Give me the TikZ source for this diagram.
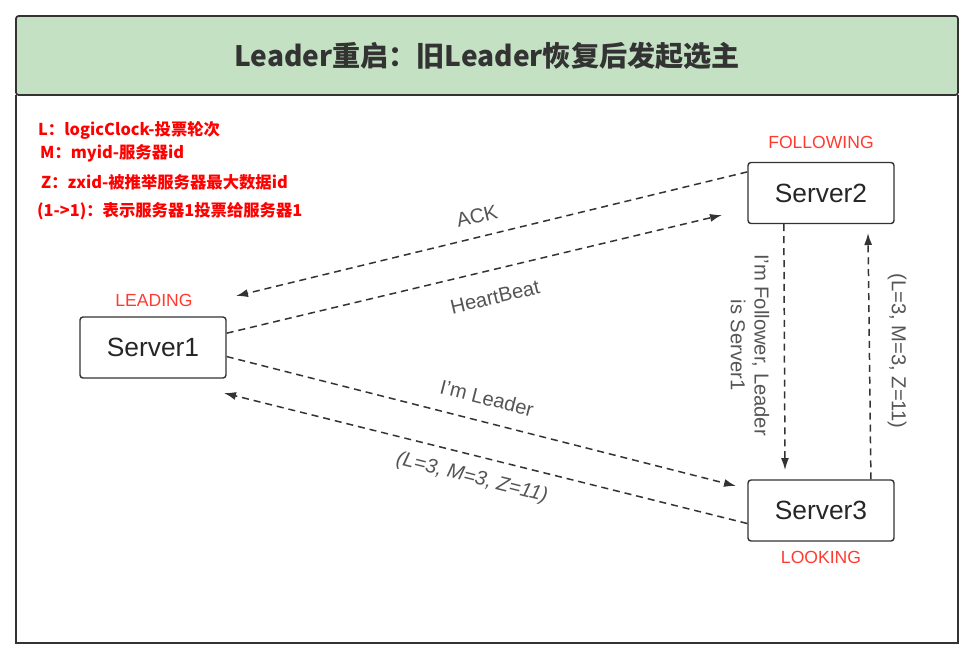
\documentclass[tikz,border=0pt]{standalone}
\usepackage{fontspec}
\setmainfont{Liberation Sans}
\newfontfamily\cjk{Noto Sans CJK SC}
\usetikzlibrary{arrows.meta}
\definecolor{titlegreen}{HTML}{C4E2C3}
\definecolor{framegray}{HTML}{333333}
\definecolor{labelgray}{HTML}{555555}
\definecolor{statered}{HTML}{FF3B30}

\begin{document}
\begin{tikzpicture}[x=0.02cm, y=-0.02cm, >={Latex[length=2.4mm,width=1.6mm]},
    server/.style={draw=framegray, line width=0.8pt, rounded corners=1.7pt, minimum width=2.92cm,
      minimum height=1.22cm, text=black!85, font=\fontsize{15}{18}\selectfont},
    flow/.style={draw=framegray, line width=0.85pt, dash pattern=on 4pt off 2.8pt},
    msg/.style={text=labelgray, font=\fontsize{11.5}{13.5}\selectfont},
    state/.style={text=statered, font=\fontsize{10}{12}\selectfont},
    legend/.style={anchor=west, text=red, font=\cjk\bfseries\fontsize{9.3}{11}\selectfont}]
  \useasboundingbox (0,0) rectangle (973,654);
  \fill[white] (0,0) rectangle (973,654);
  \filldraw[fill=titlegreen, draw=framegray, line width=1pt, rounded corners=1.5pt] (16,16) rectangle (958,95);
  \draw[framegray, line width=1pt] (16,95) -- (16,643) -- (958,643) -- (958,95);
  \node[text=framegray, font=\cjk\bfseries\fontsize{16}{19}\selectfont] (title) at (487,56) {Leader重启：旧Leader恢复后发起选主};

  \node[legend] (lL) at (32,130) {L：logicClock-投票轮次};
  \node[legend] (lM) at (34,153) {M：myid-服务器id};
  \node[legend] (lZ) at (35,182) {Z：zxid-被推举服务器最大数据id};
  \node[legend] (lV) at (31,211) {(1->1)：表示服务器1投票给服务器1};

  \node[server] (s1) at (153,347.5) {Server1};
  \node[server] (s2) at (821,193)   {Server2};
  \node[server] (s3) at (821,510.5) {Server3};
  \node[state] (st1) at (154,300) {LEADING};
  \node[state] (st2) at (821,142) {FOLLOWING};
  \node[state] (st3) at (821,557) {LOOKING};

  \coordinate (ack)  at (236,296);
  \coordinate (hb)   at (722,215);
  \coordinate (lead) at (736,486);
  \coordinate (vote) at (224,393);
  \coordinate (fol)  at (785,470);
  \coordinate (up)   at (868,233);

  \draw[flow, ->] (s2.164) -- (ack);
  \draw[flow, ->] (s1.11) -- (hb);
  \draw[flow, ->] (s1.-7) -- (lead);
  \draw[flow, ->] (s3.190) -- (vote);
  \draw[flow, ->] (s2.220) -- (fol);
  \draw[flow, ->] (s3.32.5) -- (up);

  \node[msg, rotate=13.6]  (m1) at (477,216) {ACK};
  \node[msg, rotate=13.4]  (m2) at (495,297) {HeartBeat};
  \node[msg, rotate=-14.3] (m3) at (487,398) {I'm Leader};
  \node[msg, rotate=-14,  font=\itshape\fontsize{11.5}{13.5}\selectfont] (m4) at (472,478) {(L=3, M=3, Z=11)};
  \node[msg, rotate=-90, align=center] (m5) at (750,345) {I'm Follower, Leader\\is Server1};
  \node[msg, rotate=-90] (m6) at (897,351) {(L=3, M=3, Z=11)};
\end{tikzpicture}
\end{document}
